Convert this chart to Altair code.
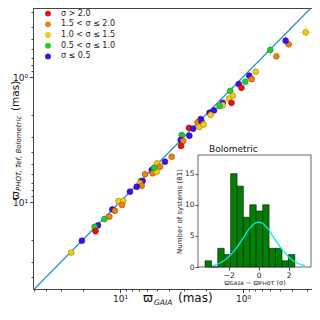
import altair as alt
import pandas as pd

# ---------------- data ----------------
classes = ["σ > 2.0", "1.5 < σ ≤ 2.0", "1.0 < σ ≤ 1.5", "0.5 < σ ≤ 1.0", "σ ≤ 0.5"]
fill_colors = ["#ee1111", "#f08010", "#f2cc10", "#22cc33", "#4010e8"]
edge_colors = ["#9a0000", "#a05000", "#a08400", "#128a20", "#28089a"]

plx_gaia = [0.249, 0.309, 0.425, 0.450, 0.600, 0.536, 0.788, 0.889, 0.850, 0.958,
            1.084, 1.03, 1.27, 1.21, 1.30, 1.24, 1.46, 1.46, 1.55, 1.72,
            1.87, 1.83, 2.21, 2.34, 2.18, 2.26, 2.09, 2.75, 2.54, 3.15,
            3.21, 3.06, 3.19, 2.73, 4.31, 3.80, 4.98, 4.73, 5.52, 5.42,
            5.03, 5.29, 6.26, 6.75, 6.54, 6.88, 6.66, 7.31, 8.30, 10.3,
            9.40, 9.63, 11.55, 10.99, 12.2, 13.4, 15.1, 16.1, 15.8, 20.4, 24.9]
plx_phot = [0.377, 0.439, 0.548, 0.512, 0.608, 0.683, 0.907, 0.976, 1.04, 1.09,
            1.14, 1.22, 1.29, 1.41, 1.49, 1.61, 1.61, 1.68, 1.71, 1.85,
            1.93, 2.01, 2.17, 2.30, 2.25, 2.51, 2.40, 2.55, 2.59, 2.91,
            3.19, 3.25, 3.56, 2.95, 4.76, 4.34, 4.90, 5.22, 5.55, 5.89,
            5.72, 5.32, 6.00, 6.79, 6.79, 7.08, 7.41, 7.55, 8.27, 9.82,
            9.82, 10.57, 11.44, 11.74, 13.1, 13.7, 15.4, 15.8, 17.1, 20.4, 25.4]
err_gaia = [0.025, 0.040, 0.030, 0.020, 0.020, 0.025, 0.020, 0.040, 0.030, 0.020,
            0.020, 0.020, 0.030, 0.030, 0.030, 0.030, 0.040, 0.030, 0.030, 0.040,
            0.030, 0.030, 0.040, 0.040, 0.040, 0.040, 0.040, 0.050, 0.050, 0.060,
            0.060, 0.060, 0.060, 0.050, 0.080, 0.080, 0.090, 0.090, 0.100, 0.100,
            0.090, 0.100, 0.120, 0.120, 0.120, 0.120, 0.120, 0.130, 0.150, 0.180,
            0.170, 0.170, 0.200, 0.200, 0.220, 0.240, 0.270, 0.290, 0.280, 0.360, 0.440]
err_phot = [0.035, 0.060, 0.020, 0.040, 0.065, 0.020, 0.030, 0.050, 0.030, 0.040,
            0.020, 0.030, 0.040, 0.040, 0.030, 0.050, 0.060, 0.030, 0.030, 0.050,
            0.040, 0.030, 0.050, 0.040, 0.040, 0.050, 0.040, 0.050, 0.050, 0.150,
            0.060, 0.060, 0.070, 0.050, 0.090, 0.080, 0.090, 0.100, 0.100, 0.110,
            0.100, 0.100, 0.110, 0.120, 0.120, 0.130, 0.130, 0.140, 0.150, 0.180,
            0.180, 0.190, 0.210, 0.210, 0.240, 0.250, 0.280, 0.290, 0.310, 0.370, 0.460]
cls_idx = [0, 2, 1, 4, 3, 1, 2, 4, 1, 3,
           4, 0, 3, 2, 2, 0, 4, 2, 3, 4,
           4, 2, 4, 1, 4, 2, 2, 0, 4, 3,
           4, 1, 0, 4, 4, 1, 2, 1, 4, 1,
           2, 3, 1, 3, 4, 2, 1, 4, 4, 2,
           2, 1, 4, 1, 1, 3, 4, 3, 0, 4, 2]

diag_vals = [0.2, 60.0]

hist_edges = [-3.58, -3.15, -2.73, -2.30, -1.87, -1.44, -1.02, -0.59,
              -0.16, 0.27, 0.70, 1.13, 1.56, 1.99, 2.42]
hist_counts = [1, 0, 3, 2, 15, 13, 8, 10, 9, 10, 3, 3, 1, 2]

gauss_x = [-3.1, -2.6, -2.1, -1.6, -1.1, -0.6, -0.2, 0.0, 0.2, 0.6, 1.1, 1.6, 2.1, 2.6, 3.1]
gauss_y = [0.2, 0.6, 1.4, 2.7, 4.4, 6.2, 7.1, 7.2, 7.1, 6.2, 4.4, 2.7, 1.4, 0.6, 0.2]

x_ticks = [0.3, 0.4, 0.5, 0.6, 0.7, 0.8, 0.9, 1, 2, 3, 4, 5, 6, 7, 8, 9, 10, 20, 30, 40, 50]
y_ticks = [0.3, 0.4, 0.5, 0.6, 0.7, 0.8, 0.9, 1, 2, 3, 4, 5, 6, 7, 8, 9, 10, 20, 30, 40]

# ---------------- tables ----------------
df = pd.DataFrame({"gaia": plx_gaia, "phot": plx_phot, "eg": err_gaia, "ep": err_phot, "k": cls_idx})
df["cls"] = [classes[i] for i in df["k"]]
df["fill"] = [fill_colors[i] for i in df["k"]]
df["edge"] = [edge_colors[i] for i in df["k"]]
df["g_lo"] = df["gaia"] - df["eg"]
df["g_hi"] = df["gaia"] + df["eg"]
df["p_lo"] = df["phot"] - df["ep"]
df["p_hi"] = df["phot"] + df["ep"]

line_df = pd.DataFrame({"v": diag_vals})
hist_df = pd.DataFrame({"lo": hist_edges[:-1], "hi": hist_edges[1:], "n": hist_counts, "base": 0})
gauss_df = pd.DataFrame({"x": gauss_x, "y": gauss_y})

W, H = 279, 281
FONT = "DejaVu Sans"

xs = alt.Scale(type="log", domain=[0.2749, 50.95], reverse=True, nice=False)
ys = alt.Scale(type="log", domain=[0.2805, 49.66], reverse=True, nice=False)

major_test = "datum.value == 1 || datum.value == 10"
lbl_expr = "datum.value == 1 ? '10⁰' : (datum.value == 10 ? '10¹' : '')"
x_axis = alt.Axis(values=x_ticks, labelExpr=lbl_expr,
                  tickSize={"condition": {"test": major_test, "value": 3.5}, "value": 2},
                  grid=False, domain=False, title=None, labelFontSize=9, labelPadding=2,
                  labelFlush=False, labelOverlap=False, tickColor="#444", labelColor="#222")
y_axis = alt.Axis(values=y_ticks, labelExpr=lbl_expr,
                  tickSize={"condition": {"test": major_test, "value": 3.5}, "value": 2},
                  grid=False, domain=False, title=None, labelFontSize=9, labelPadding=2,
                  labelFlush=False, labelOverlap=False, tickColor="#444", labelColor="#222")

diag = alt.Chart(line_df).mark_line(clip=True, color="#2b8cc4", strokeWidth=1.3).encode(
    x=alt.X("v:Q", scale=xs, axis=None), y=alt.Y("v:Q", scale=ys, axis=None))

errx = alt.Chart(df).mark_rule(clip=True, strokeWidth=1, opacity=0.5).encode(
    x=alt.X("g_lo:Q", scale=xs, axis=None), x2="g_hi:Q",
    y=alt.Y("phot:Q", scale=ys, axis=None), color=alt.Color("fill:N", scale=None))
erry = alt.Chart(df).mark_rule(clip=True, strokeWidth=1, opacity=0.5).encode(
    x=alt.X("gaia:Q", scale=xs, axis=None),
    y=alt.Y("p_lo:Q", scale=ys, axis=None), y2="p_hi:Q", color=alt.Color("fill:N", scale=None))

pts = alt.Chart(df).mark_point(filled=True, shape="circle", size=34, strokeWidth=0.6, opacity=1, clip=True).encode(
    x=alt.X("gaia:Q", scale=xs, axis=x_axis),
    y=alt.Y("phot:Q", scale=ys, axis=y_axis),
    color=alt.Color("cls:N", scale=alt.Scale(domain=classes, range=fill_colors),
                    legend=alt.Legend(title=None, orient="none", legendX=11, legendY=1.6,
                                      symbolType="circle", symbolSize=34, symbolStrokeWidth=0,
                                      labelFontSize=8, labelOffset=9, rowPadding=2.7, padding=0,
                                      labelColor="#222", labelFont=FONT)),
    stroke=alt.Stroke("edge:N", scale=None))

# ---------------- inset ----------------
ins_x = alt.Scale(domain=[-4.05, 3.5], range=[165, 278], nice=False, zero=False)
ins_y = alt.Scale(domain=[0, 18], range=[259, 147], nice=False, zero=False)
frame_df = pd.DataFrame({"x0": [-4.05], "x1": [3.5], "y0": [0], "y1": [18]})

ins_bg = alt.Chart(frame_df).mark_rect(fill="white", stroke="#555", strokeWidth=0.9).encode(
    x=alt.X("x0:Q", scale=ins_x, axis=None), x2="x1:Q",
    y=alt.Y("y0:Q", scale=ins_y, axis=None), y2="y1:Q")

bars = alt.Chart(hist_df).mark_rect(fill="#008000", stroke="#111", strokeWidth=0.6).encode(
    x=alt.X("lo:Q", scale=ins_x,
            axis=alt.Axis(orient="bottom", offset=-(H - 259), values=[-2, 0, 2], domain=False, grid=False,
                          tickSize=3, labelFontSize=7.5, labelPadding=1, tickColor="#444", labelColor="#222",
                          title="ϖɢᴀɪᴀ − ϖᴘʜᴏᴛ (σ)", titleFontSize=6.5, titleFontWeight="normal",
                          titlePadding=1, titleColor="#222")),
    x2="hi:Q",
    y=alt.Y("n:Q", scale=ins_y,
            axis=alt.Axis(orient="left", offset=-165, values=[0, 5, 10, 15], domain=False, grid=False,
                          tickSize=3, labelFontSize=7.5, labelPadding=1, tickColor="#444", labelColor="#222",
                          title="Number of systems (81)", titleFontSize=7, titleFontWeight="normal",
                          titlePadding=2, titleColor="#222")),
    y2="base:Q")

gauss = alt.Chart(gauss_df).mark_line(color="#00eeee", strokeWidth=1.3, interpolate="monotone").encode(
    x=alt.X("x:Q", scale=ins_x, axis=None), y=alt.Y("y:Q", scale=ins_y, axis=None))


def label(txt, x, y, size, angle=0, italic=False):
    return alt.Chart(pd.DataFrame({"t": [txt]})).mark_text(
        align="left", baseline="alphabetic", font=FONT, fontSize=size, angle=angle,
        fontStyle="italic" if italic else "normal", color="#111").encode(
        text="t:N", x=alt.value(x), y=alt.value(y))


texts = [
    label("Bolometric", 176, 144, 9),
    label("ϖ", 110, 294, 12),
    label("GAIA", 121, 296.5, 7.5, italic=True),
    label("(mas)", 145, 294, 12),
    label("ϖ", -14.5, 192, 10.5, angle=270),
    label("PHOT, Tef, Bolometric", -12, 183, 7, angle=270, italic=True),
    label("(mas)", -14.5, 103, 10.5, angle=270),
]

chart = alt.layer(diag, errx, erry, pts, ins_bg, bars, gauss, *texts).resolve_scale(
    x="independent", y="independent", color="independent", stroke="independent"
).properties(
    width=W, height=H,
    autosize=alt.AutoSizeParams(type="none"),
    padding={"left": 25, "top": 0, "right": 0, "bottom": 16},
).configure_view(stroke="#444", strokeWidth=1).configure_axis(
    labelFont=FONT, titleFont=FONT).configure_legend(labelFont=FONT)

chart.save("out.html", embed_options={"renderer": "svg", "actions": False})
